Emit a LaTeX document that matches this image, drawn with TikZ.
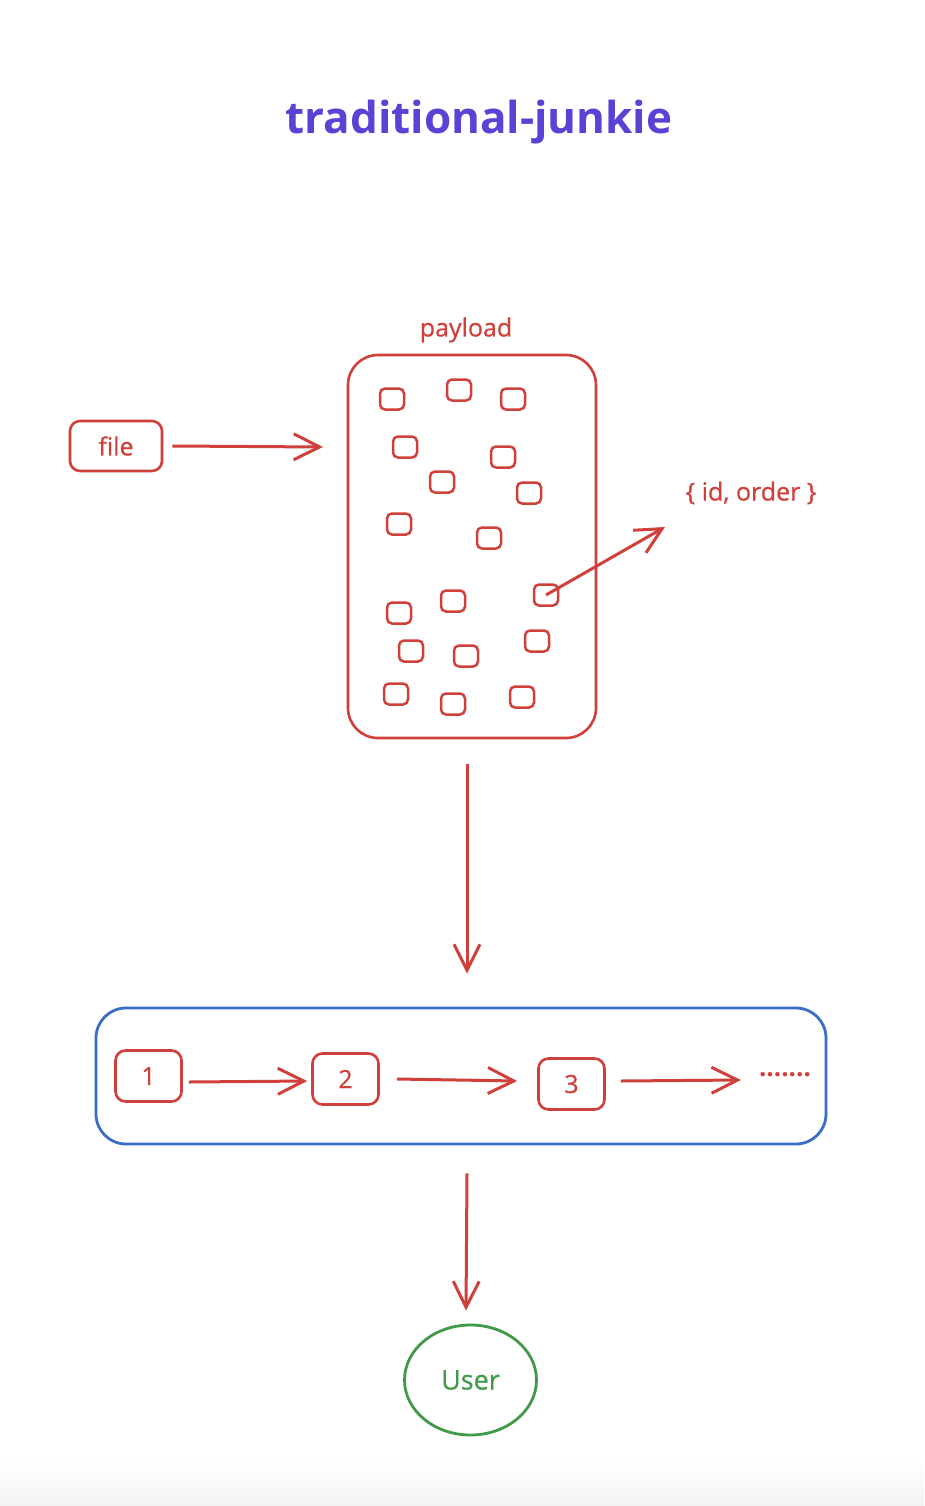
\documentclass[tikz,border=0pt]{standalone}
\usepackage{fontspec}
\setmainfont{Open Sans}
\newfontfamily\medfont[FakeBold=0.6]{Open Sans}
\usetikzlibrary{arrows.meta,shapes.geometric,calc}
\definecolor{xred}{RGB}{208,64,58}
\definecolor{xblue}{RGB}{58,110,196}
\definecolor{xgreen}{RGB}{66,154,72}
\definecolor{xtitle}{RGB}{92,66,212}
\tikzset{
  redline/.style={draw=xred, line width=2.6pt},
  arr/.style={xred, line width=3pt, -{Straight Barb[length=26pt,width=26pt,line width=3pt]}},
  tiny/.style={redline, line width=2.5pt, rounded corners=5pt, minimum width=24pt, minimum height=21pt, inner sep=0pt},
  numbox/.style={redline, rounded corners=10pt, minimum width=66pt, minimum height=51pt, inner sep=0pt, text=xred, font=\medfont\fontsize{25}{30}\selectfont},
  lbl/.style={text=xred, font=\medfont\fontsize{25}{30}\selectfont, inner sep=0pt},
}
\begin{document}
\begin{tikzpicture}[x=1pt,y=-1pt]
\useasboundingbox (0,0) rectangle (924,1506);
\fill[white] (0,0) rectangle (924,1506);
\shade[top color=white, bottom color=black!5] (0,1460) rectangle (924,1506);
% title
\node[text=xtitle, font=\fontsize{44}{52}\selectfont\bfseries, inner sep=0pt] (title) at (479,122) {traditional-junkie};
% payload
\node[redline, rounded corners=30pt, minimum width=248pt, minimum height=383pt, inner sep=0pt] (payload) at (472,546.5) {};
\node[lbl] (plabel) at (466,330) {payload};
% small squares
\node[tiny] (s1) at (392,399) {};
\node[tiny] (s2) at (459,390) {};
\node[tiny] (s3) at (513,399) {};
\node[tiny] (s4) at (405,447) {};
\node[tiny] (s5) at (503,457) {};
\node[tiny] (s6) at (442,482) {};
\node[tiny] (s7) at (529,493) {};
\node[tiny] (s8) at (399,524) {};
\node[tiny] (s9) at (489,538) {};
\node[tiny] (s10) at (546,595) {};
\node[tiny] (s11) at (453,601) {};
\node[tiny] (s12) at (399,613) {};
\node[tiny] (s13) at (537,641) {};
\node[tiny] (s14) at (411,651) {};
\node[tiny] (s15) at (466,656) {};
\node[tiny] (s16) at (396,694) {};
\node[tiny] (s17) at (453,704) {};
\node[tiny] (s18) at (522,697) {};
% file
\node[redline, rounded corners=10pt, minimum width=92pt, minimum height=50pt, inner sep=0pt, text=xred, font=\medfont\fontsize{25}{30}\selectfont] (file) at (116,446) {file};
\coordinate (filein) at (323,447);
\draw[arr] ([xshift=9pt]file.east) -- (filein);
% id order
\node[lbl] (idl) at (751,493) {\{ id, order \}};
\coordinate (idend) at (665,527);
\draw[arr] (s10.center) -- (idend);
% chain box
\node[draw=xblue, line width=2.8pt, rounded corners=30pt, minimum width=730pt, minimum height=136pt, inner sep=0pt] (chain) at (461,1076) {};
\draw[arr] ([yshift=-25pt]payload.south -| 467,0) -- ([yshift=33pt]chain.north -| 467,0);
\node[numbox] (n1) at (148.5,1076) {1};
\node[numbox] (n2) at (345.5,1079) {2};
\node[numbox] (n3) at (571.5,1084) {3};
\node[text=xred, font=\fontsize{26}{30}\selectfont\bfseries, inner sep=0pt] (dots) at (785,1075) {.......};
\draw[arr] ([xshift=6pt,yshift=-6pt]n1.east) -- ([xshift=-4pt,yshift=-2pt]n2.west);
\draw[arr] ([xshift=17pt]n2.east) -- ([xshift=-20pt,yshift=3pt]n3.west);
\draw[arr] ([xshift=15pt,yshift=3pt]n3.east) -- ([xshift=-18pt,yshift=-5pt]dots.west);
% user
\node[ellipse, draw=xgreen, line width=2.8pt, minimum width=132pt, minimum height=110pt, inner sep=0pt, text=xgreen, font=\medfont\fontsize{27}{32}\selectfont] (user) at (470.5,1380) {User};
\draw[arr] ([yshift=-28pt]chain.south -| 467,0) -- ([yshift=13pt]user.north -| 466,0);
\end{tikzpicture}
\end{document}
